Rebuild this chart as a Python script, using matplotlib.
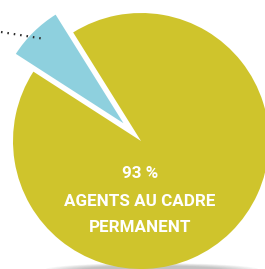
import matplotlib.pyplot as plt
from matplotlib.patches import Ellipse
from matplotlib import font_manager

# pie data
parts = ["Agents au cadre permanent", "Autres"]
shares = [93, 7]
colors = ["#cfc42c", "#8ed0de"]
explode = [0, 25]   # blue slice pulled out (pixel units)

label_lines = ["93 %", "AGENTS AU CADRE", "PERMANENT"]

# leader line going off to the left (pixel coords, y up)
leader_x = [1, 45]
leader_y = [237, 230]

W, H = 265, 269
fig = plt.figure(figsize=(W / 100, H / 100), dpi=100)
ax = fig.add_axes([0, 0, 1, 1])

# soft shadow under the disc
for i in range(8):
    ax.add_patch(Ellipse((152, -1), 215 - i * 10, 14 - i * 0.8,
                         color="#555555", alpha=0.05, lw=0, zorder=0))

ax.pie(shares, colors=colors, explode=explode, startangle=122 + 25.2,
       counterclock=True, radius=128, center=(141, 128),
       wedgeprops=dict(linewidth=0), frame=True)
ax.set_xlim(0, W)
ax.set_ylim(0, H)
ax.set_aspect("equal")
ax.axis("off")

ax.plot(leader_x, leader_y, color="#2b2b2b", lw=1.6,
        linestyle=(0, (0.7, 2.2)), zorder=5)

# no condensed face installed here -> Roboto is the narrowest one
names = {f.name for f in font_manager.fontManager.ttflist}
fam = ["Roboto", "DejaVu Sans"] if "Roboto" in names else ["DejaVu Sans"]

baselines = [91, 63, 37]
texts = []
for txt, yb in zip(label_lines, baselines):
    t = ax.text(140, yb, txt, ha="center", va="baseline", color="white",
                fontsize=14, fontweight="bold", family=fam, zorder=6)
    texts.append(t)

# long line a bit wider than the original (134 px) so letters stay tall
r = fig.canvas.get_renderer()
w = texts[1].get_window_extent(r).width
size = 14 * 152 / w
for t in texts:
    t.set_fontsize(size)

fig.savefig("out.png", dpi=100)
